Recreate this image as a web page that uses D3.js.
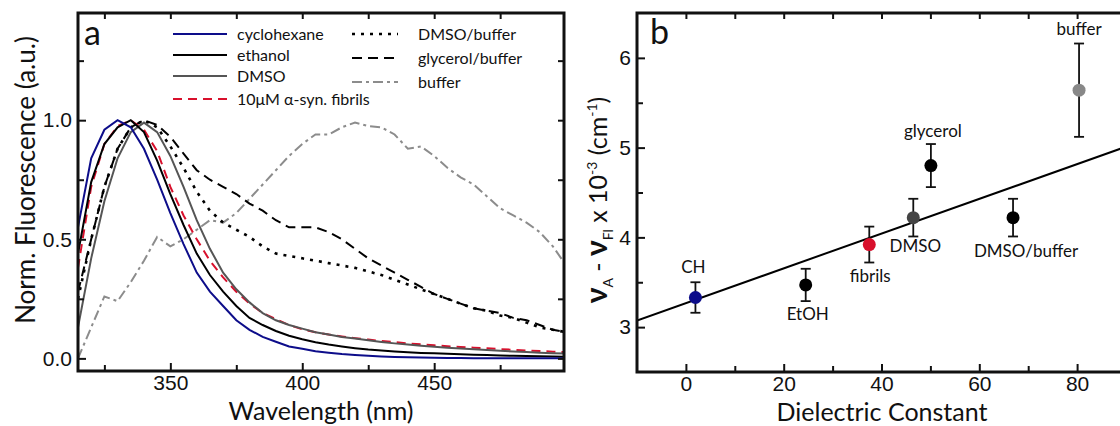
<!DOCTYPE html>
<html>
<head>
<meta charset="utf-8">
<script src="https://cdn.jsdelivr.net/npm/d3@7"></script>
<style>
  body { margin: 0; background: #fff; }
  svg { display: block; font-family: Lato, "Open Sans", sans-serif; }
  .axis path, .axis line { stroke: #111; }
  .axis text { font-size: 21px; fill: #111; }
</style>
</head>
<body>
<svg id="chart" width="1120" height="426"></svg>
<script>
// panel a: normalised emission spectra
var wavelength = [315,320,325,330,335,340,345,350,355,360,365,370,375,380,385,390,395,400,405,410,
  415,420,425,430,435,440,445,450,455,460,465,470,475,480,485,490,495,500];
var cyclohexane = [0.55,0.84,0.96,1.0,0.97,0.88,0.75,0.61,0.48,0.36,0.28,0.22,0.16,0.12,0.09,0.07,0.05,0.04,0.03,0.024,
  0.018,0.014,0.011,0.008,0.006,0.005,0.004,0.003,0.002,0.002,0.001,0.001,0.001,0.001,0.001,0.001,0.001,0.001];
var ethanol = [0.44,0.74,0.9,0.97,1.0,0.95,0.83,0.69,0.56,0.44,0.35,0.28,0.22,0.17,0.14,0.115,0.095,0.08,0.068,0.058,
  0.05,0.043,0.037,0.033,0.029,0.026,0.023,0.021,0.019,0.017,0.015,0.014,0.012,0.011,0.01,0.009,0.008,0.007];
var dmso = [0.13,0.42,0.66,0.84,0.95,0.99,0.95,0.85,0.72,0.58,0.46,0.36,0.29,0.235,0.19,0.16,0.14,0.125,0.11,0.1,
  0.09,0.083,0.076,0.069,0.063,0.058,0.053,0.049,0.045,0.041,0.038,0.035,0.032,0.029,0.027,0.024,0.022,0.02];
var fibrils = [0.38,0.72,0.9,0.975,1.0,0.96,0.87,0.72,0.6,0.5,0.41,0.34,0.28,0.23,0.19,0.165,0.14,0.122,0.11,0.1,
  0.092,0.085,0.079,0.073,0.068,0.063,0.059,0.055,0.051,0.048,0.045,0.042,0.039,0.036,0.033,0.031,0.028,0.026];
var dmsoBuffer = [0.25,0.5,0.72,0.88,0.97,1.0,0.97,0.89,0.8,0.7,0.62,0.57,0.54,0.51,0.47,0.44,0.43,0.42,0.41,0.4,
  0.39,0.38,0.365,0.35,0.33,0.31,0.29,0.27,0.25,0.23,0.21,0.2,0.18,0.17,0.15,0.13,0.12,0.11];
var glycerolBuffer = [0.28,0.5,0.72,0.88,0.97,1.0,0.98,0.93,0.86,0.79,0.75,0.72,0.69,0.65,0.62,0.58,0.55,0.55,0.55,0.53,
  0.5,0.46,0.42,0.39,0.36,0.33,0.3,0.27,0.25,0.23,0.21,0.2,0.19,0.17,0.16,0.14,0.12,0.11];
var buffer = [0.0,0.13,0.26,0.24,0.32,0.41,0.51,0.47,0.5,0.54,0.58,0.57,0.61,0.67,0.73,0.79,0.85,0.9,0.94,0.94,
  0.97,0.99,0.975,0.97,0.94,0.88,0.89,0.85,0.8,0.76,0.73,0.68,0.63,0.6,0.57,0.53,0.47,0.39];

var seriesNames = ["cyclohexane", "ethanol", "DMSO", "10\u03bcM \u03b1-syn. fibrils", "DMSO/buffer", "glycerol/buffer", "buffer"];
var seriesValues = [cyclohexane, ethanol, dmso, fibrils, dmsoBuffer, glycerolBuffer, buffer];

// panel b: Stokes shift vs dielectric constant
var solvents = ["CH", "EtOH", "fibrils", "DMSO", "glycerol", "DMSO/buffer", "buffer"];
var dielectric = [1.95, 24.5, 37.5, 46.5, 50.1, 66.9, 80.4];
var stokesShift = [3.33, 3.47, 3.92, 4.22, 4.80, 4.22, 5.64];
var stokesErr = [0.17, 0.18, 0.20, 0.21, 0.24, 0.21, 0.52];
var fitLine = [[-10, 3.074], [90, 5.01]];

var svg = d3.select("#chart");

// styles per series (colour, dash)
var lineStyles = [
  {color: "#0d0d8a", dash: null},
  {color: "#000", dash: null},
  {color: "#555", dash: null},
  {color: "#d8102c", dash: "9,6"},
  {color: "#000", dash: "3,6"},
  {color: "#000", dash: "10,6"},
  {color: "#8c8c8c", dash: "10,4,3,4"}
];
var pointColors = ["#0d0d8a", "#000", "#d8102c", "#444", "#000", "#000", "#888"];

function frame(g, x, y, xMajor, xMinor, yMajor, yMinor, xFmt, yFmt) {
  var r = x.range(), t = y.range();
  var left = r[0], right = r[1], bottom = t[0], top = t[1];
  // bottom & left with labels, top & right mirrored, ticks inward
  g.append("g").attr("class", "axis").attr("transform", "translate(0," + bottom + ")")
    .call(d3.axisBottom(x).tickValues(xMajor).tickSize(-8).tickPadding(4).tickFormat(xFmt));
  g.append("g").attr("class", "axis").attr("transform", "translate(0," + bottom + ")")
    .call(d3.axisBottom(x).tickValues(xMinor).tickSize(-6).tickFormat(""));
  g.append("g").attr("class", "axis").attr("transform", "translate(0," + top + ")")
    .call(d3.axisTop(x).tickValues(xMajor.concat(xMinor)).tickSize(-6).tickFormat(""));
  g.append("g").attr("class", "axis").attr("transform", "translate(" + left + ",0)")
    .call(d3.axisLeft(y).tickValues(yMajor).tickSize(-8).tickPadding(6).tickFormat(yFmt));
  g.append("g").attr("class", "axis").attr("transform", "translate(" + left + ",0)")
    .call(d3.axisLeft(y).tickValues(yMinor).tickSize(-6).tickFormat(""));
  g.append("g").attr("class", "axis").attr("transform", "translate(" + right + ",0)")
    .call(d3.axisRight(y).tickValues(yMajor.concat(yMinor)).tickSize(-6).tickFormat(""));
  g.selectAll(".axis path").remove();
  g.selectAll(".axis line").attr("stroke-width", 2);
  g.append("rect").attr("x", left).attr("y", top)
    .attr("width", right - left).attr("height", bottom - top)
    .attr("fill", "none").attr("stroke", "#111").attr("stroke-width", 3);
}

// ---------- panel a ----------
var xa = d3.scaleLinear().domain([315, 499.2]).range([78, 564]);
var ya = d3.scaleLinear().domain([-0.053, 1.45]).range([371, 13]);
var ga = svg.append("g");

ga.append("clipPath").attr("id", "clipA").append("rect")
  .attr("x", 78).attr("y", 13).attr("width", 486).attr("height", 358);

var lineA = d3.line().x(function(d) { return xa(d[0]); }).y(function(d) { return ya(d[1]); });
var curves = ga.append("g").attr("clip-path", "url(#clipA)");
// draw in reverse so solid curves sit on top like the original
for (var i = seriesValues.length - 1; i >= 0; i--) {
  var pts = wavelength.map(function(w, j) { return [w, seriesValues[i][j]]; });
  curves.append("path").datum(pts).attr("d", lineA)
    .attr("fill", "none").attr("stroke", lineStyles[i].color)
    .attr("stroke-width", i === 4 ? 2.6 : 2)
    .attr("stroke-dasharray", lineStyles[i].dash);
}

frame(ga, xa, ya, [350, 400, 450], [325, 375, 425, 475], [0, 0.5, 1.0], [0.25, 0.75, 1.25],
  d3.format("d"), d3.format(".1f"));

// legend
var legendPos = [[173, 34], [173, 55], [173, 76], [173, 99], [352, 34], [352, 58], [352, 82]];
seriesNames.forEach(function(name, i) {
  var p = legendPos[i];
  var lg = ga.append("g");
  var len = i < 4 ? 54 : 46;
  lg.append("line").attr("x1", p[0]).attr("x2", p[0] + len).attr("y1", p[1]).attr("y2", p[1])
    .attr("stroke", lineStyles[i].color).attr("stroke-width", i === 4 ? 2.6 : 2)
    .attr("stroke-dasharray", lineStyles[i].dash);
  lg.append("text").attr("x", i < 4 ? 237 : 418).attr("y", p[1]).attr("dy", "0.35em")
    .attr("font-size", 16).attr("fill", "#111").text(name);
});

ga.append("text").attr("x", 84).attr("y", 45).attr("font-size", 34).attr("fill", "#111").text("a");
ga.append("text").attr("x", 321).attr("y", 420).attr("text-anchor", "middle")
  .attr("font-size", 25).attr("fill", "#111").text("Wavelength (nm)");
ga.append("text").attr("transform", "translate(35,180) rotate(-90)").attr("text-anchor", "middle")
  .attr("font-size", 26).attr("fill", "#111").text("Norm. Fluorescence (a.u.)");

// ---------- panel b ----------
var xb = d3.scaleLinear().domain([-10, 90]).range([637, 1126]);
var yb = d3.scaleLinear().domain([2.5, 6.5]).range([372, 13]);
var gb = svg.append("g");

gb.append("clipPath").attr("id", "clipB").append("rect")
  .attr("x", 637).attr("y", 13).attr("width", 489).attr("height", 359);

var lineB = d3.line().x(function(d) { return xb(d[0]); }).y(function(d) { return yb(d[1]); });
gb.append("path").datum(fitLine).attr("d", lineB).attr("clip-path", "url(#clipB)")
  .attr("fill", "none").attr("stroke", "#000").attr("stroke-width", 2);

frame(gb, xb, yb, [0, 20, 40, 60, 80], [10, 30, 50, 70], [3, 4, 5, 6], [3.5, 4.5, 5.5],
  d3.format("d"), d3.format("d"));

var pointData = solvents.map(function(s, i) {
  return {name: s, x: dielectric[i], y: stokesShift[i], e: stokesErr[i], color: pointColors[i]};
});
var errG = gb.append("g").selectAll("g").data(pointData).enter().append("g");
errG.append("line")
  .attr("x1", function(d) { return xb(d.x); }).attr("x2", function(d) { return xb(d.x); })
  .attr("y1", function(d) { return yb(d.y - d.e); }).attr("y2", function(d) { return yb(d.y + d.e); })
  .attr("stroke", "#111").attr("stroke-width", 1.8);
[-1, 1].forEach(function(sgn) {
  errG.append("line")
    .attr("x1", function(d) { return xb(d.x) - 5; }).attr("x2", function(d) { return xb(d.x) + 5; })
    .attr("y1", function(d) { return yb(d.y + sgn * d.e); }).attr("y2", function(d) { return yb(d.y + sgn * d.e); })
    .attr("stroke", "#111").attr("stroke-width", 1.8);
});
errG.append("circle")
  .attr("cx", function(d) { return xb(d.x); }).attr("cy", function(d) { return yb(d.y); })
  .attr("r", 6.5).attr("fill", function(d) { return d.color; });

// label offsets from each point (px)
var labelOffset = [[-2, -25], [2, 35], [1, 37], [2, 34], [2, -29], [13, 39], [0, -55]];
errG.append("text")
  .attr("x", function(d, i) { return xb(d.x) + labelOffset[i][0]; })
  .attr("y", function(d, i) { return yb(d.y) + labelOffset[i][1]; })
  .attr("text-anchor", "middle").attr("font-size", 17).attr("fill", "#111")
  .text(function(d) { return d.name; });

gb.append("text").attr("x", 650).attr("y", 44).attr("font-size", 34).attr("fill", "#111").text("b");
gb.append("text").attr("x", 882).attr("y", 421).attr("text-anchor", "middle")
  .attr("font-size", 25).attr("fill", "#111").text("Dielectric Constant");

var yTitle = gb.append("text").attr("transform", "translate(607,200) rotate(-90)")
  .attr("text-anchor", "middle").attr("font-size", 25).attr("fill", "#111");
yTitle.append("tspan").attr("font-size", 30).attr("font-weight", "bold").text("\u03bd");
yTitle.append("tspan").attr("font-size", 14).attr("dy", 6).text("A");
yTitle.append("tspan").attr("dy", -6).text(" - ");
yTitle.append("tspan").attr("font-size", 30).attr("font-weight", "bold").text("\u03bd");
yTitle.append("tspan").attr("font-size", 14).attr("dy", 6).text("Fl");
yTitle.append("tspan").attr("dy", -6).text(" x 10");
yTitle.append("tspan").attr("font-size", 14).attr("dy", -10).text("-3");
yTitle.append("tspan").attr("dy", 10).text(" (cm");
yTitle.append("tspan").attr("font-size", 14).attr("dy", -10).text("-1");
yTitle.append("tspan").attr("dy", 10).text(")");
</script>
</body>
</html>
